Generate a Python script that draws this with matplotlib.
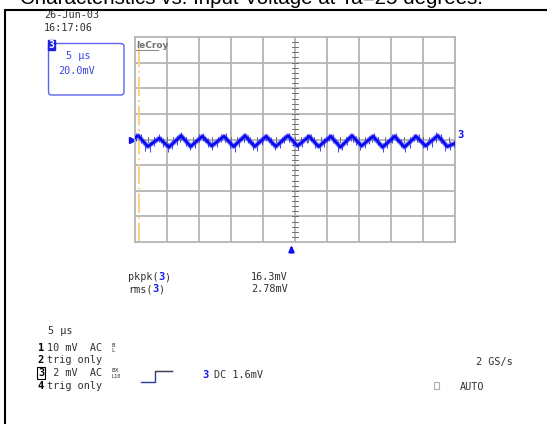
import matplotlib
matplotlib.use("agg")
import matplotlib.pyplot as plt
from matplotlib.patches import FancyBboxPatch, Rectangle

# ripple trace, channel 3 (time in us, value in mV, 20 mV/div shown)
peak_t = [0.5, 3.8, 7.2, 10.5, 13.9, 17.2, 20.5, 23.9, 27.2, 30.6, 33.9, 37.2, 40.6, 43.9, 47.3]
peak_mv = [3.0, 1.0, 3.0, 2.5, 2.5, 3.0, 2.5, 3.0, 2.5, 2.5, 3.0, 2.5, 2.5, 2.5, 3.0]
trough_t = [2.0, 5.3, 8.7, 12.0, 15.4, 18.7, 22.0, 25.4, 28.7, 32.1, 35.4, 38.7, 42.1, 45.4, 48.8]
trough_mv = [-5.5, -6.0, -5.5, -5.0, -5.5, -5.5, -5.5, -5.0, -5.5, -6.0, -5.0, -6.0, -6.0, -5.0, -5.5]
start_mv = 1.5
end_mv = -3.0

# noise band around the trace (lowest / highest excursion read at each time)
noise_t = [0.2, 0.9, 1.6, 2.3, 3.0, 3.7, 4.4, 5.1, 5.8, 6.5, 7.2, 7.9, 8.6, 9.3, 10.0, 10.7,
           11.4, 12.1, 12.8, 13.5, 14.2, 14.9, 15.6, 16.3, 17.0, 17.7, 18.4, 19.1, 19.8, 20.5,
           21.2, 21.9, 22.6, 23.3, 24.0, 24.7, 25.4, 26.1, 26.8, 27.5, 28.2, 28.9, 29.6, 30.3,
           31.0, 31.7, 32.4, 33.1, 33.8, 34.5, 35.2, 35.9, 36.6, 37.3, 38.0, 38.7, 39.4, 40.1,
           40.8, 41.5, 42.2, 42.9, 43.6, 44.3, 45.0, 45.7, 46.4, 47.1, 47.8, 48.5, 49.2, 49.9]
noise_lo = [-1.0, -3.0, -9.0, -10.0, -5.0, -2.0, -6.0, -9.5, -7.5, -4.0, 0.0, -5.0, -8.5, -7.0,
            -2.0, -1.0, -6.0, -8.5, -6.0, -2.0, -1.5, -7.0, -9.5, -5.5, -1.0, -3.0, -8.0, -9.0,
            -4.5, -1.0, -4.5, -8.5, -6.5, -3.0, -1.0, -5.0, -8.0, -6.0, -2.5, -1.5, -7.0, -9.0,
            -5.5, -1.5, -3.0, -10.0, -8.5, -4.5, -1.0, -4.0, -8.5, -7.0, -3.5, -1.0, -4.5, -9.5,
            -6.5, -2.5, -1.5, -6.0, -9.5, -6.5, -1.5, -2.0, -7.0, -8.5, -5.5, -1.0, -3.0, -9.0,
            -8.0, -6.0]
noise_hi = [5.0, 4.0, -1.0, -2.0, 2.0, 4.5, 1.0, -3.0, -1.0, 3.0, 5.5, 2.0, -2.5, 0.0, 4.0, 5.0,
            1.0, -2.0, 0.5, 4.5, 5.0, 0.0, -2.0, 1.0, 5.0, 3.5, -1.5, -2.0, 2.0, 4.5, 2.0, -2.5,
            0.0, 3.5, 5.0, 1.5, -2.0, 0.5, 4.0, 4.5, 0.0, -2.5, 1.0, 4.5, 4.0, -1.5, -2.0, 2.0,
            4.5, 2.5, -2.0, -0.5, 3.0, 5.0, 2.0, -3.0, 0.0, 4.0, 5.0, 0.5, -3.0, 0.0, 4.5, 4.5,
            0.0, -2.0, 1.0, 5.5, 4.0, -2.0, -1.5, 0.0]

title = "Characteristics vs. Input Voltage at Ta=25 degrees."
date_lines = ["26-Jun-03", "16:17:06"]
box_lines = ["5 \u00b5s", "20.0mV"]
meas_names = ["pkpk(", "rms("]
meas_values = ["16.3mV", "2.78mV"]
timebase = "5 \u00b5s"
chan_rows = ["1", "2", "3", "4"]
chan_texts = ["10 mV  AC", "trig only", " 2 mV  AC", "trig only"]
trig_text = "DC 1.6mV"
sample_rate = "2 GS/s"
trig_mode = "AUTO"

W, H = 547, 424
fig = plt.figure(figsize=(W / 100, H / 100), dpi=100)

# overlay in pixel coordinates for the scope screen furniture
ov = fig.add_axes([0, 0, 1, 1])
ov.set_xlim(0, W)
ov.set_ylim(H, 0)
ov.axis("off")

mono = "DejaVu Sans Mono"
txtc = "#303030"
blue = "#1010f0"

ov.text(251.5, 4.0, title, ha="center", va="baseline", fontsize=14.8,
        family="Liberation Sans", color="black")
ov.plot([5, 5], [9.5, H], color="black", lw=1.5, solid_capstyle="butt")
ov.plot([4.3, W], [9.5, 9.5], color="black", lw=1.5, solid_capstyle="butt")

ov.text(44, 15.5, date_lines[0], ha="left", va="center", fontsize=7.3, family=mono, color=txtc)
ov.text(44, 28, date_lines[1], ha="left", va="center", fontsize=7.3, family=mono, color=txtc)

# channel descriptor box
ov.add_patch(FancyBboxPatch((48.5, 43.5), 75.5, 51.5, boxstyle="round,pad=0,rounding_size=3",
                            fill=False, edgecolor="#5a64f0", lw=1.0))
ov.text(51.5, 45, "3", ha="center", va="center", fontsize=7, family=mono, color="white",
        fontweight="bold", bbox=dict(boxstyle="square,pad=0.05", fc="#2020e0", ec="#2020e0"))
ov.text(78, 56, box_lines[0], ha="center", va="center", fontsize=7.3, family=mono, color="#3c46e6")
ov.text(76.5, 71.5, box_lines[1], ha="center", va="center", fontsize=7.3, family=mono, color="#3c46e6")

# measurements
for i, (nm, val) in enumerate(zip(meas_names, meas_values)):
    y = 277 + 12 * i
    ov.text(128, y, nm, ha="left", va="center", fontsize=7.3, family=mono, color=txtc)
    x3 = 128 + 6.1 * len(nm)
    ov.text(x3, y, "3", ha="left", va="center", fontsize=7.5, family=mono, color="#1a1af0",
            fontweight="bold")
    ov.text(x3 + 6.1, y, ")", ha="left", va="center", fontsize=7.3, family=mono, color=txtc)
    ov.text(251, y, val, ha="left", va="center", fontsize=7.3, family=mono, color=txtc)

ov.text(48, 331, timebase, ha="left", va="center", fontsize=7.3, family=mono, color=txtc)

row_y = [348, 360, 373, 386]
for num, txt, y in zip(chan_rows, chan_texts, row_y):
    if num == "3":
        ov.text(41, y, num, ha="center", va="center", fontsize=7.3, family=mono, color="black",
                fontweight="bold", bbox=dict(boxstyle="square,pad=0.05", fc="white", ec="black", lw=0.8))
    else:
        ov.text(41, y, num, ha="center", va="center", fontsize=7.5, family=mono, color="black",
                fontweight="bold")
    ov.text(47, y, txt, ha="left", va="center", fontsize=7.3, family=mono, color=txtc)

# coupling sub/superscripts
ov.text(111, 345.5, "B", ha="left", va="center", fontsize=4.2, family=mono, color=txtc)
ov.text(111, 351, "L", ha="left", va="center", fontsize=4.2, family=mono, color=txtc)
ov.text(111, 370.5, "B", ha="left", va="center", fontsize=4.2, family=mono, color=txtc)
ov.text(115, 370.5, "X", ha="left", va="center", fontsize=4.2, family=mono, color=txtc)
ov.text(111, 376, "L10", ha="left", va="center", fontsize=3.8, family=mono, color=txtc)

# trigger step symbol
ov.plot([141, 155, 155, 172], [381.5, 381.5, 371, 371], color="#2a3a9a", lw=1.0)
ov.plot([155, 172], [371.3, 371.3], color="#404040", lw=0.8)
ov.text(202, 375, "3", ha="left", va="center", fontsize=7.5, family=mono, color="#1a1af0",
        fontweight="bold")
ov.text(213.5, 375, trig_text, ha="left", va="center", fontsize=7.3, family=mono, color=txtc)

ov.text(513, 362, sample_rate, ha="right", va="center", fontsize=7.3, family=mono, color=txtc)
ov.add_patch(Rectangle((434, 382), 5, 7, fill=False, edgecolor="#b0b0b0", lw=0.8))
ov.text(460, 387, trig_mode, ha="left", va="center", fontsize=7.3, family=mono, color=txtc)

# markers around the grid
ov.plot([131.5], [140], marker=">", color=blue, markersize=4, linestyle="none")
ov.text(457, 135, "3", ha="left", va="center", fontsize=7.5, family=mono, color=blue, fontweight="bold")
ov.annotate("", xy=(291.5, 242), xytext=(291.5, 255),
            arrowprops=dict(arrowstyle="-|>,head_width=0.15,head_length=0.35", color=blue, lw=1.6))

# grid area
ax = fig.add_axes([135 / W, 1 - 242 / H, 320 / W, 205 / H])
ax.set_xlim(0, 50)
ax.set_ylim(-80, 80)
gc = "#b4b4b4"
for x in range(5, 50, 5):
    ax.axvline(x, color=gc, lw=1.3, zorder=1)
for y in range(-60, 80, 20):
    ax.axhline(y, color=gc, lw=1.3, zorder=1)
for s in ax.spines.values():
    s.set_color(gc)
    s.set_linewidth(1.3)
ax.set_xticks([])
ax.set_yticks([])

# center minor ticks
for k in range(-19, 20):
    y = k * 4
    ax.plot([24.55, 25.45], [y, y], color="#707070", lw=0.7, zorder=2)
for k in range(1, 50):
    ax.plot([k, k], [-2.2, 2.2], color="#707070", lw=0.7, zorder=2)

# orange cursors
ax.axvline(0.6, color="#ffcf80", lw=1.4, ls=(0, (10, 2, 1, 2)), zorder=2)
ax.axvline(49.95, color="#ffcf80", lw=1.6, ls=(0, (10, 2, 1, 2)), zorder=2)

# lecroy label
ax.text(0.25, 77, "leCroy", ha="left", va="top", fontsize=6.5, family="DejaVu Sans",
        color="#707070", fontweight="bold")
ax.plot([0.2, 3.6], [69.5, 69.5], color="#909090", lw=0.8)

pts = sorted(list(zip(peak_t, peak_mv)) + list(zip(trough_t, trough_mv)))
tt = [0.0] + [p[0] for p in pts] + [50.0]
vv = [start_mv] + [p[1] for p in pts] + [end_mv]
ax.vlines(noise_t, noise_lo, noise_hi, color="#3c3cff", lw=0.7, zorder=3)
ax.plot(tt, vv, color="#4a4aff", lw=3.6, zorder=3, alpha=0.6)
ax.plot(tt, vv, color="#0a0af0", lw=2.0, zorder=4)

fig.savefig("out.png", dpi=100)
